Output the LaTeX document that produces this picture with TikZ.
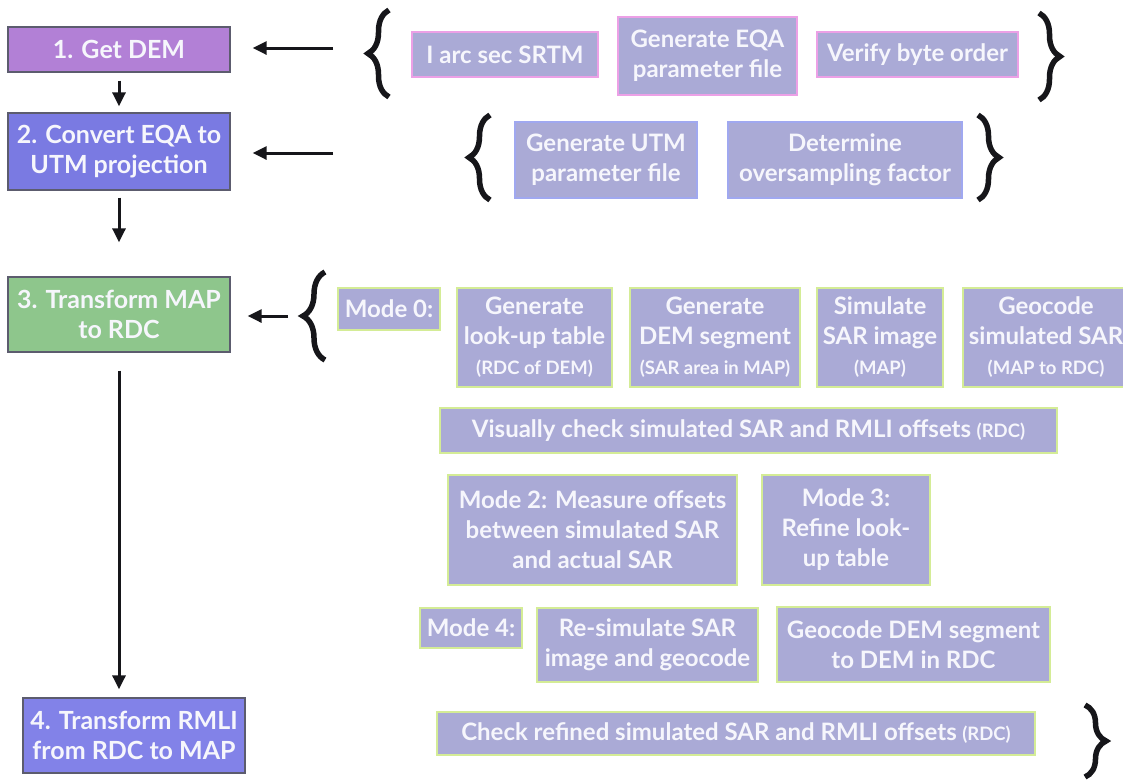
\documentclass[tikz,border=0pt]{standalone}
\usepackage{fontspec}
\setmainfont{Lato}
\usetikzlibrary{arrows.meta,decorations.pathreplacing}

\definecolor{stageedge}{RGB}{92,92,110}
\definecolor{demfill}{RGB}{178,128,214}
\definecolor{utmfill}{RGB}{122,122,226}
\definecolor{rdcfill}{RGB}{142,198,140}
\definecolor{mapfill}{RGB}{130,130,232}
\definecolor{taskfill}{RGB}{170,170,214}
\definecolor{pinkedge}{RGB}{236,160,230}
\definecolor{blueedge}{RGB}{160,168,240}
\definecolor{greenedge}{RGB}{212,236,150}
\definecolor{labeltext}{RGB}{246,246,252}
\definecolor{inkblack}{RGB}{22,22,26}

\begin{document}
\begin{tikzpicture}[x=1pt,y=-1pt,
  box/.style={draw, line width=1.3pt, inner sep=0pt, align=center,
    text=labeltext},
  stage/.style={box, draw=stageedge, minimum width=222pt,
    font=\bfseries\fontsize{25}{30}\selectfont},
  task/.style={box, fill=taskfill, font=\bfseries\fontsize{24}{30}\selectfont},
  rowA/.style={task, draw=pinkedge},
  rowB/.style={task, draw=blueedge},
  rowC/.style={task, draw=greenedge},
  arr/.style={draw=inkblack, line width=3pt, -{Triangle[length=14pt,width=13pt]}},
  brc/.style={draw=inkblack, decorate, decoration={brace, amplitude=#1},
    line width=5.5pt},
  brc/.default=21pt
]
\useasboundingbox (0,0) rectangle (1123,780);
\newcommand{\sm}[1]{{\fontsize{18.5}{22}\selectfont #1}}

% main processing stages
\node[stage, fill=demfill, minimum height=45pt] (dem) at (119,49.5) {1. Get DEM};
\node[stage, fill=utmfill, minimum height=77pt] (utm) at (119,151.5) {2. Convert EQA to\\UTM projection};
\node[stage, fill=rdcfill, minimum height=75pt] (rdc) at (119,314.5) {3. Transform MAP\\to RDC};
\node[stage, fill=mapfill, minimum height=75pt] (map) at (134,735.5) {4. Transform RMLI\\from RDC to MAP};

\draw[arr, shorten <=8pt, shorten >=6pt] (dem.south) -- (utm.north);
\draw[arr, shorten <=7pt, shorten >=34pt] (utm.south) -- (rdc.north);
\draw[arr, shorten <=18pt, shorten >=8pt] (rdc.south) -- (rdc.south |- map.north);

% step 1 tasks
\node[rowA, minimum width=186pt, minimum height=45pt] (srtm) at (505,54.5) {I arc sec SRTM};
\node[rowA, minimum width=179pt, minimum height=78pt] (eqapar) at (707.5,56) {Generate EQA\\parameter file};
\node[rowA, minimum width=201pt, minimum height=45pt] (byte) at (917.5,54.5) {Verify byte order};
\draw[brc] (389,97) -- (389,10);
\draw[brc] (1039,13) -- (1039,100);
\coordinate (t1) at (333,48);
\draw[arr, shorten >=22pt] (t1) -- (t1 -| dem.east);

% step 2 tasks
\node[rowB, minimum width=182pt, minimum height=76pt] (utmpar) at (606,160) {Generate UTM\\parameter file};
\node[rowB, minimum width=234pt, minimum height=76pt] (ovs) at (845,160) {Determine\\oversampling factor};
\draw[brc] (490,200) -- (490,115);
\draw[brc] (978,115) -- (978,200);
\coordinate (t2) at (333,153);
\draw[arr, shorten >=22pt] (t2) -- (t2 -| utm.east);

% step 3 tasks
\node[rowC, minimum width=102pt, minimum height=42pt] (m0) at (389,309) {Mode 0:};
\node[rowC, minimum width=155pt, minimum height=99pt] (lut) at (534.5,337.5) {Generate\\look-up table\\\sm{(RDC of DEM)}};
\node[rowC, minimum width=170pt, minimum height=99pt] (seg) at (715,337.5) {Generate\\DEM segment\\\sm{(SAR area in MAP)}};
\node[rowC, minimum width=126pt, minimum height=99pt] (sim) at (880,337.5) {Simulate\\SAR image\\\sm{(MAP)}};
\node[rowC, minimum width=166pt, minimum height=99pt] (geo) at (1046,337.5) {Geocode\\simulated SAR\\\sm{(MAP to RDC)}};
\node[rowC, minimum width=617pt, minimum height=45pt] (vis) at (748.5,430.5) {Visually check simulated SAR and RMLI offsets \sm{(RDC)}};
\node[rowC, minimum width=289pt, minimum height=110pt] (m2) at (592.5,530) {Mode 2: Measure offsets\\between simulated SAR\\and actual SAR};
\node[rowC, minimum width=168pt, minimum height=110pt] (m3) at (846,530) {Mode 3:\\Refine look-\\up table};
\node[rowC, minimum width=102pt, minimum height=40pt] (m4) at (471,628) {Mode 4:};
\node[rowC, minimum width=221pt, minimum height=74pt] (resim) at (647.5,645) {Re-simulate SAR\\image and geocode};
\node[rowC, minimum width=273pt, minimum height=75pt] (gdem) at (913.5,644.5) {Geocode DEM segment\\to DEM in RDC};
\node[rowC, minimum width=598pt, minimum height=43pt] (chk) at (736,733.5) {Check refined simulated SAR and RMLI offsets \sm{(RDC)}};
\draw[brc=22pt] (325,360) -- (325,272);
\draw[brc] (1085,705) -- (1085,777);
\coordinate (t3) at (288,316);
\draw[arr, shorten >=17pt] (t3) -- (t3 -| rdc.east);
\end{tikzpicture}
\end{document}
